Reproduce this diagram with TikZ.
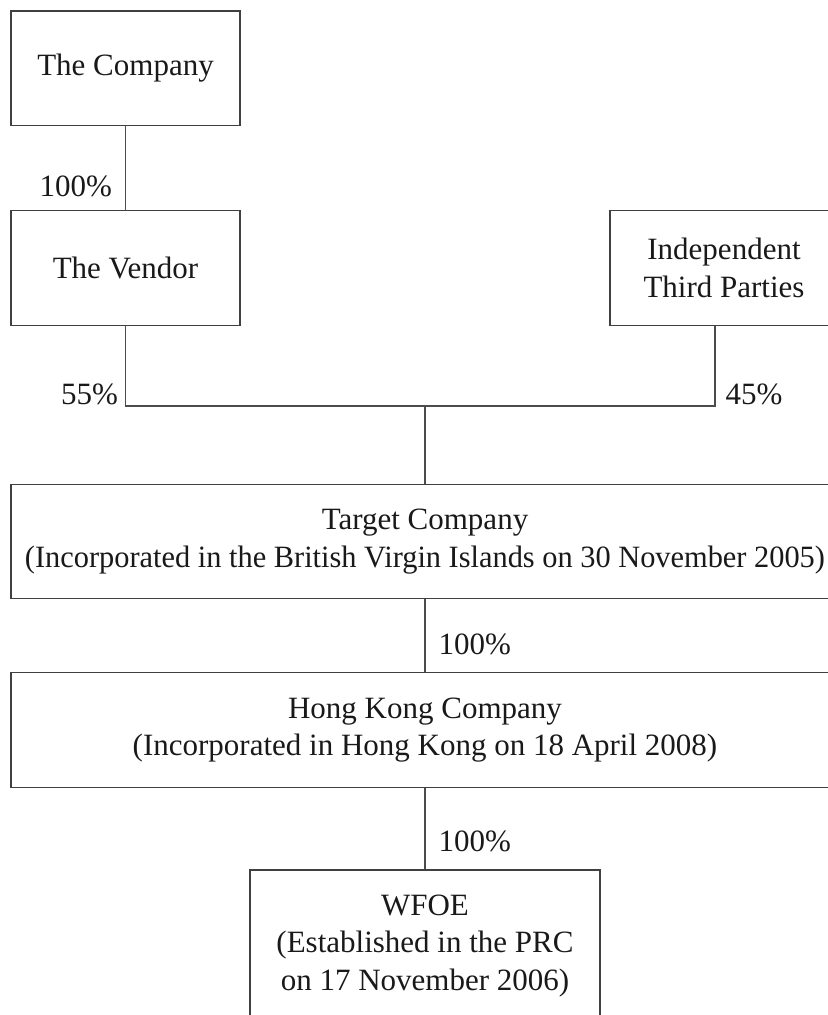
\documentclass[tikz,border=0pt]{standalone}
\usepackage{graphicx}
\usepackage{fontspec}
\setmainfont{Liberation Serif}
\begin{document}
\begin{tikzpicture}[x=0.5pt,y=-0.5pt,
  font=\fontsize{15.5pt}{18.75pt}\selectfont, text=black!90,
  entity/.style={draw=black!75, line width=0.6pt, minimum width=114.5pt, minimum height=57.3pt, inner sep=0pt, align=center},
  wide/.style={entity, minimum width=414pt},
  link/.style={draw=black!70, line width=0.6pt},
  pct/.style={inner sep=0pt}]
\useasboundingbox (0,0) rectangle (828,1015);
% owners
\node[entity] (company) at (125.5,68.3) {The Company};
\node[entity] (vendor) at (125.5,268) {The Vendor};
\node[entity, minimum width=114pt] (third) at (724,268) {Independent\\Third Parties};
\coordinate (jn) at (425,406);
% group companies
\node[wide] (target) at (425,541.5) {Target Company\\\resizebox{400pt}{\height}{(Incorporated in the British Virgin Islands on 30 November 2005)}};
\node[wide] (hk) at (425,730) {Hong Kong Company\\(Incorporated in Hong Kong on 18 April 2008)};
\node[entity, minimum width=175pt, minimum height=76pt] (wfoe) at (425,946) {WFOE\\(Established in the PRC\\on 17 November 2006)};
\path[link]
(company) edge node[pct, anchor=base east, pos=.84, xshift=-6.5pt] {100\%} (vendor)
(target) edge node[pct, anchor=base west, pos=.76, xshift=6.5pt] {100\%} (hk)
(hk) edge node[pct, anchor=base west, pos=.78, xshift=6.5pt] {100\%} (wfoe);
\draw[link] (vendor.south) |- node[pct, pos=.5, anchor=base east, xshift=-3.5pt, yshift=1pt] {55\%} (jn);
\draw[link] ([xshift=-4.5pt]third.south) |- node[pct, pos=.5, anchor=base west, xshift=5pt, yshift=1pt] {45\%} (jn);
\draw[link] (jn) -- (target);
\end{tikzpicture}
\end{document}
